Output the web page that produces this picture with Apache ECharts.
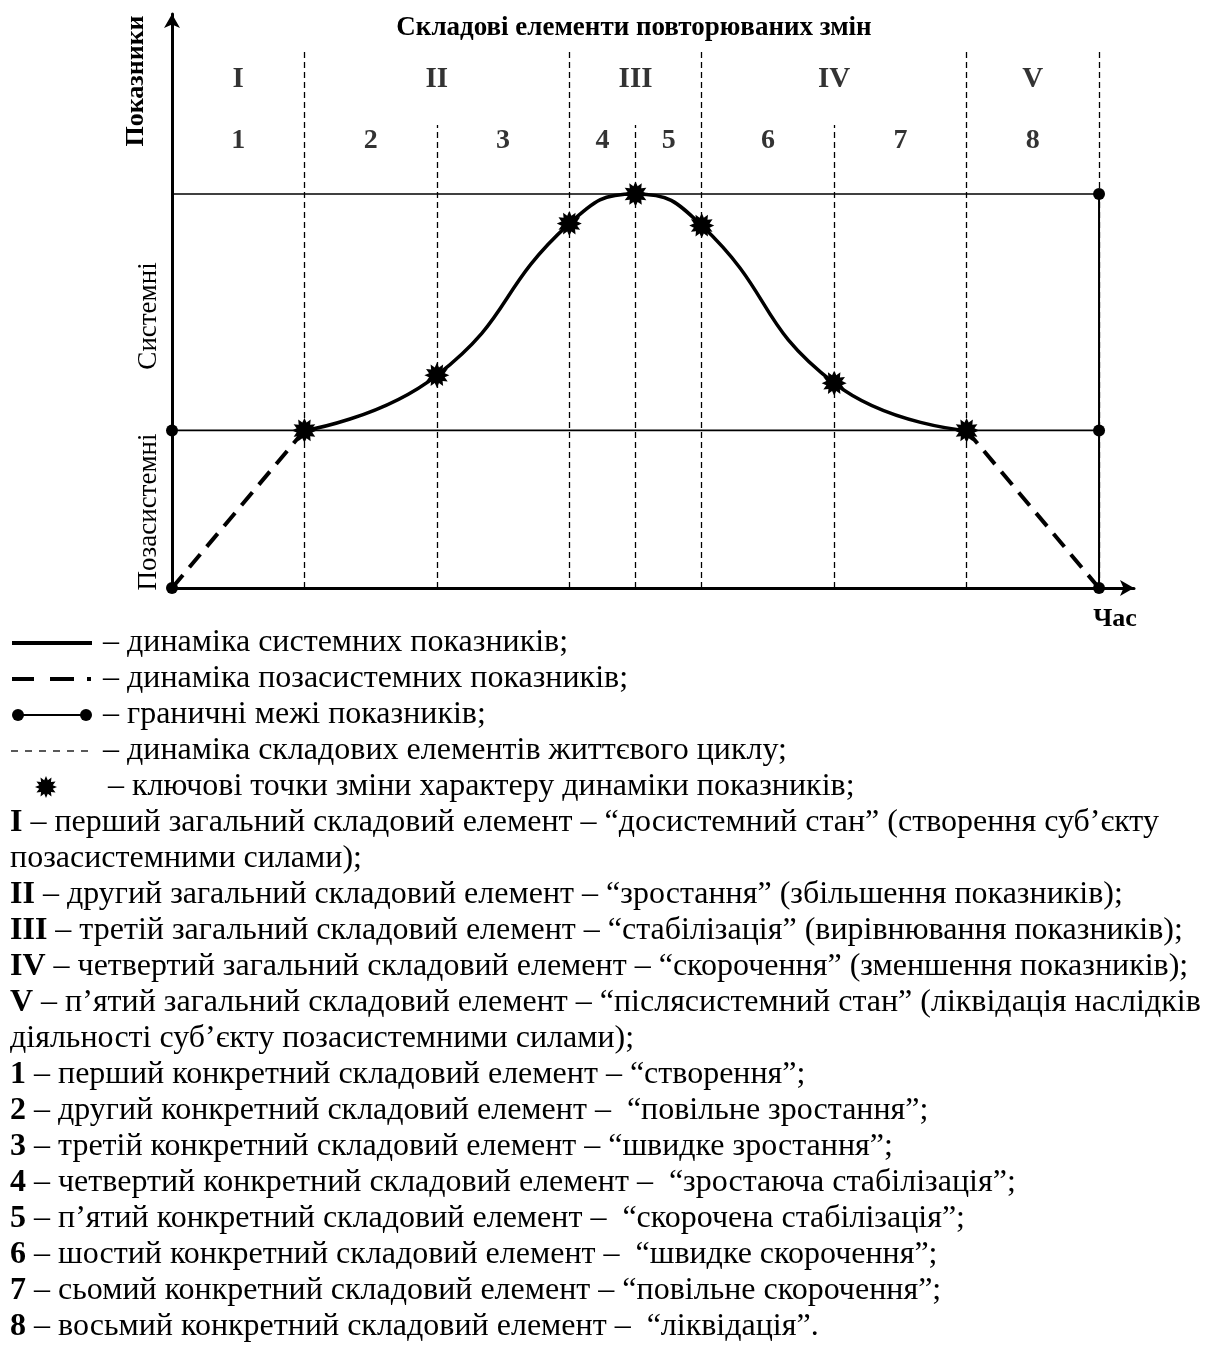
<!DOCTYPE html>
<html>
<head>
<meta charset="utf-8">
<script src="https://cdn.jsdelivr.net/npm/echarts@6/dist/echarts.min.js"></script>
<style>
html,body{margin:0;padding:0;background:#fff;}
#c{width:1209px;height:1355px;}
</style>
</head>
<body>
<div id="c"></div>
<script>
// ---- data ----
const majorBoundaries = [1, 3, 4, 6, 7];
const minorBoundaries = [2, 3.5, 5];
const majorTop = 137;
const minorTop = 117.5;
const keyX = [1, 2, 3, 3.5, 4, 5, 6];
const keyY = [40, 54, 92.5, 100, 92, 52, 40];
const lowerBound = 40;
const upperBound = 100;
const xEnd = 7;
const preX = [0, 1];
const preY = [0, 40];
const postX = [6, 7];
const postY = [40, 0];
const romanLabels = ['I', 'II', 'III', 'IV', 'V'];
const romanX = [0.5, 2, 3.5, 5, 6.5];
const romanY = 129;
const arabicLabels = ['1', '2', '3', '4', '5', '6', '7', '8'];
const arabicX = [0.5, 1.5, 2.5, 3.25, 3.75, 4.5, 5.5, 6.5];
const arabicY = 113.5;
const titleText = 'Складові елементи повторюваних змін';
const yName = 'Показники';
const xName = 'Час';
const zoneUpper = 'Системні';
const zoneLower = 'Позасистемні';
const legendLines = [
  '– динаміка системних показників;',
  '– динаміка позасистемних показників;',
  '– граничні межі показників;',
  '– динаміка складових елементів життєвого циклу;',
  '– ключові точки зміни характеру динаміки показників;'
];
const noteLines = [
  ['I', ' – перший загальний складовий елемент – “досистемний стан” (створення суб’єкту'],
  ['', 'позасистемними силами);'],
  ['II', ' – другий загальний складовий елемент – “зростання” (збільшення показників);'],
  ['III', ' – третій загальний складовий елемент – “стабілізація” (вирівнювання показників);'],
  ['IV', ' – четвертий загальний складовий елемент – “скорочення” (зменшення показників);'],
  ['V', ' – п’ятий загальний складовий елемент – “післясистемний стан” (ліквідація наслідків'],
  ['', 'діяльності суб’єкту позасистемними силами);'],
  ['1', ' – перший конкретний складовий елемент – “створення”;'],
  ['2', ' – другий конкретний складовий елемент –  “повільне зростання”;'],
  ['3', ' – третій конкретний складовий елемент – “швидке зростання”;'],
  ['4', ' – четвертий конкретний складовий елемент –  “зростаюча стабілізація”;'],
  ['5', ' – п’ятий конкретний складовий елемент –  “скорочена стабілізація”;'],
  ['6', ' – шостий конкретний складовий елемент –  “швидке скорочення”;'],
  ['7', ' – сьомий конкретний складовий елемент – “повільне скорочення”;'],
  ['8', ' – восьмий конкретний складовий елемент –  “ліквідація”.']
];

// ---- helpers ----
const FF = '"Liberation Serif", "Times New Roman", serif';
const TXT = 32;
function starPoints(cx, cy, n, ro, ri) {
  const pts = [];
  for (let i = 0; i < n * 2; i++) {
    const r = i % 2 === 0 ? ro : ri;
    const a = Math.PI * i / n - Math.PI / 2;
    pts.push([cx + r * Math.cos(a), cy + r * Math.sin(a)]);
  }
  return pts;
}
function starPath(n, ro, ri) {
  const p = starPoints(0, 0, n, ro, ri);
  return 'path://M' + p.map(q => q[0].toFixed(3) + ',' + q[1].toFixed(3)).join('L') + 'Z';
}
const STAR = starPath(12, 10, 6.5);

const chart = echarts.init(document.getElementById('c'), null, {renderer: 'canvas'});

const vLines = majorBoundaries.map(x => ({coords: [[x, 0], [x, majorTop]]}))
  .concat(minorBoundaries.map(x => ({coords: [[x, 0], [x, minorTop]]})));

const lineStart = 643, lineStep = 36;
const graphics = [];
// title and axis names
graphics.push({type: 'text', x: 634, y: 28, style: {text: titleText, font: 'bold 27px ' + FF, textAlign: 'center', textVerticalAlign: 'middle', fill: '#000'}});
graphics.push({type: 'text', x: 136, y: 81, rotation: Math.PI / 2, style: {text: yName, font: 'bold 26px ' + FF, textAlign: 'center', textVerticalAlign: 'middle', fill: '#000'}});
graphics.push({type: 'text', x: 149, y: 316, rotation: Math.PI / 2, style: {text: zoneUpper, font: '27px ' + FF, textAlign: 'center', textVerticalAlign: 'middle', fill: '#000'}});
graphics.push({type: 'text', x: 149, y: 512, rotation: Math.PI / 2, style: {text: zoneLower, font: '27px ' + FF, textAlign: 'center', textVerticalAlign: 'middle', fill: '#000'}});
graphics.push({type: 'text', x: 1115, y: 619, style: {text: xName, font: 'bold 26px ' + FF, textAlign: 'center', textVerticalAlign: 'middle', fill: '#000'}});

// legend icons
const ly = i => lineStart + i * lineStep;
graphics.push({type: 'line', shape: {x1: 12, y1: ly(0), x2: 92, y2: ly(0)}, style: {stroke: '#000', lineWidth: 4}});
graphics.push({type: 'line', shape: {x1: 12, y1: ly(1), x2: 92, y2: ly(1)}, style: {stroke: '#000', lineWidth: 4, lineDash: [22, 16, 24, 13, 4, 50]}});
graphics.push({type: 'line', shape: {x1: 18, y1: ly(2), x2: 86, y2: ly(2)}, style: {stroke: '#000', lineWidth: 2}});
graphics.push({type: 'circle', shape: {cx: 18, cy: ly(2), r: 6}, style: {fill: '#000'}});
graphics.push({type: 'circle', shape: {cx: 86, cy: ly(2), r: 6}, style: {fill: '#000'}});
graphics.push({type: 'line', shape: {x1: 11, y1: ly(3), x2: 90, y2: ly(3)}, style: {stroke: '#000', lineWidth: 1.3, lineDash: [7, 7]}});
graphics.push({type: 'polygon', shape: {points: starPoints(46, ly(4), 12, 11, 7)}, style: {fill: '#000'}});
legendLines.forEach((t, i) => {
  graphics.push({type: 'text', x: i === 4 ? 108 : 103, y: ly(i), style: {text: t, font: TXT + 'px ' + FF, textVerticalAlign: 'middle', fill: '#000'}});
});
noteLines.forEach((t, i) => {
  const txt = (t[0] ? '{b|' + t[0] + '}' : '') + '{r|' + t[1] + '}';
  graphics.push({type: 'text', x: 10, y: ly(5 + i), style: {
    text: txt, textVerticalAlign: 'middle', fill: '#000',
    rich: {b: {fontFamily: FF, fontSize: TXT, fontWeight: 'bold', fill: '#000'}, r: {fontFamily: FF, fontSize: TXT, fill: '#000'}}
  }});
});

const option = {
  animation: false,
  backgroundColor: '#fff',
  grid: {left: 172, right: 75, top: 14, bottom: 767, containLabel: false},
  xAxis: {
    type: 'value', min: 0, max: 7.264,
    axisLine: {show: true, lineStyle: {color: '#000', width: 3}, symbol: ['none', 'arrow'], symbolSize: [12, 14], symbolOffset: [0, 0]},
    axisTick: {show: false}, axisLabel: {show: false}, splitLine: {show: false}
  },
  yAxis: {
    type: 'value', min: 0, max: 145.7,
    axisLine: {show: true, lineStyle: {color: '#000', width: 3}, symbol: ['none', 'arrow'], symbolSize: [12, 14]},
    axisTick: {show: false}, axisLabel: {show: false}, splitLine: {show: false}
  },
  graphic: graphics,
  series: [
    {type: 'lines', coordinateSystem: 'cartesian2d', z: 1, silent: true,
     lineStyle: {color: '#000', width: 1.3, type: [6, 4], opacity: 1}, data: vLines},
    {type: 'line', z: 2, symbol: 'none', lineStyle: {color: '#000', width: 1.6}, data: [[0, upperBound], [xEnd, upperBound]]},
    {type: 'line', z: 2, symbol: 'none', lineStyle: {color: '#000', width: 1.8}, data: [[0, lowerBound], [xEnd, lowerBound]]},
    {type: 'line', z: 2, symbol: 'none', lineStyle: {color: '#000', width: 2}, data: [[xEnd, 0], [xEnd, upperBound]]},
    {type: 'line', z: 3, symbol: 'none', lineStyle: {color: '#000', width: 4, type: [17, 10]}, data: preX.map((x, i) => [x, preY[i]])},
    {type: 'line', z: 3, symbol: 'none', lineStyle: {color: '#000', width: 4, type: [17, 10]}, data: postX.map((x, i) => [x, postY[i]])},
    {type: 'line', z: 4, smooth: 0.5, symbol: STAR, symbolSize: 25, showAllSymbol: true,
     itemStyle: {color: '#000'}, lineStyle: {color: '#000', width: 3.5},
     data: keyX.map((x, i) => [x, keyY[i]])},
    {type: 'scatter', z: 5, symbolSize: 12, itemStyle: {color: '#000', opacity: 1},
     data: [[0, 0], [0, lowerBound], [xEnd, 0], [xEnd, lowerBound], [xEnd, upperBound]]},
    {type: 'scatter', z: 5, symbolSize: 0, silent: true,
     label: {show: true, position: 'inside', formatter: p => p.data[2], fontFamily: FF, fontWeight: 'bold', fontSize: 29, color: '#000'},
     data: romanX.map((x, i) => [x, romanY, romanLabels[i]])},
    {type: 'scatter', z: 5, symbolSize: 0, silent: true,
     label: {show: true, position: 'inside', formatter: p => p.data[2], fontFamily: FF, fontWeight: 'bold', fontSize: 28, color: '#000'},
     data: arabicX.map((x, i) => [x, arabicY, arabicLabels[i]])}
  ]
};
chart.setOption(option);
</script>
</body>
</html>
